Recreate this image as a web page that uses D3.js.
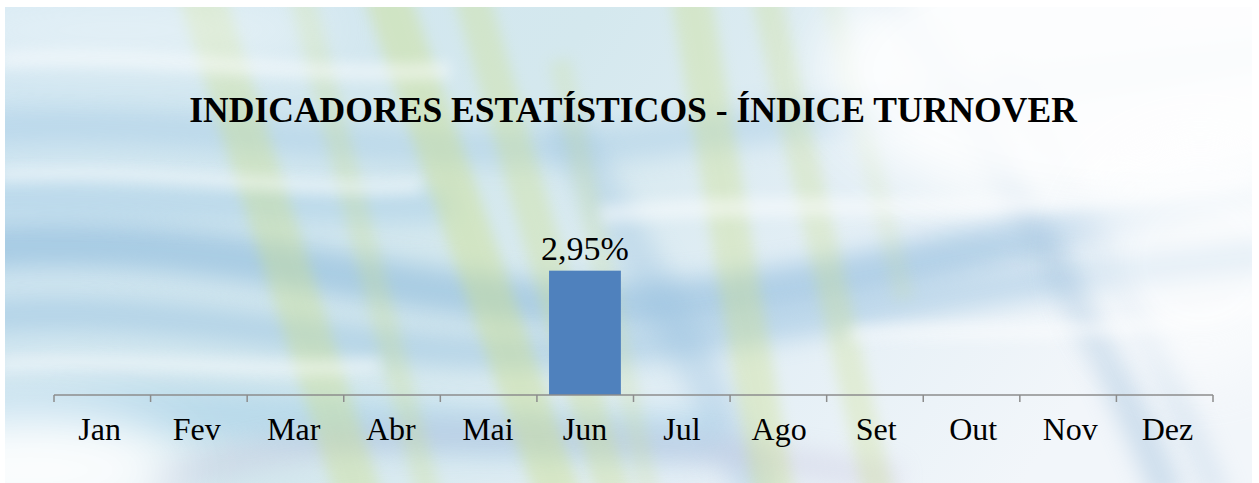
<!DOCTYPE html>
<html>
<head>
<meta charset="utf-8">
<script src="https://cdn.jsdelivr.net/npm/d3@7"></script>
<style>
  html, body { margin: 0; padding: 0; background: #ffffff; }
  svg { display: block; }
  .serif { font-family: "Liberation Serif", "Tinos", "Times New Roman", "DejaVu Serif", serif; }
</style>
</head>
<body>
<svg id="chart" width="1259" height="483"></svg>
<script>
// ---- data ----
const title = "INDICADORES ESTATÍSTICOS - ÍNDICE TURNOVER";
const months = ["Jan", "Fev", "Mar", "Abr", "Mai", "Jun", "Jul", "Ago", "Set", "Out", "Nov", "Dez"];
const turnover = [null, null, null, null, null, 2.95, null, null, null, null, null, null];
const valueLabels = ["", "", "", "", "", "2,95%", "", "", "", "", "", ""];

const W = 1259, H = 483;
const svg = d3.select("#chart");
const defs = svg.append("defs");

// ---- decorative background ----
defs.append("clipPath").attr("id", "bgclip")
  .append("rect").attr("x", 5).attr("y", 7).attr("width", 1247).attr("height", 476);

function blur(id, sd) {
  const f = defs.append("filter").attr("id", id)
    .attr("filterUnits", "userSpaceOnUse")
    .attr("x", -200).attr("y", -200).attr("width", W + 400).attr("height", H + 400);
  f.append("feGaussianBlur").attr("stdDeviation", sd);
}
blur("blurS", 7);
blur("blurM", 12);
blur("blurL", 28);

const baseGrad = defs.append("linearGradient").attr("id", "baseGrad")
  .attr("x1", "0").attr("y1", "0").attr("x2", "1").attr("y2", "0.25");
baseGrad.append("stop").attr("offset", "0").attr("stop-color", "#cfe5f1");
baseGrad.append("stop").attr("offset", "0.45").attr("stop-color", "#d4e8ee");
baseGrad.append("stop").attr("offset", "0.72").attr("stop-color", "#e2eef5");
baseGrad.append("stop").attr("offset", "1").attr("stop-color", "#f2f6fa");

const bg = svg.append("g").attr("clip-path", "url(#bgclip)");
bg.append("rect").attr("x", 0).attr("y", 0).attr("width", W).attr("height", H).attr("fill", "url(#baseGrad)");

// blue curved bands
const blueBands = [
  {d: "M-50,250 C250,220 450,330 700,300 S1100,210 1300,170", w: 45, c: "#7fb1d8", o: 0.5},
  {d: "M-50,320 C200,290 400,380 650,345 S1000,280 1300,250", w: 32, c: "#88b8dc", o: 0.42},
  {d: "M-50,130 C200,110 400,170 650,140 S1000,90 1300,50", w: 35, c: "#9cc5e3", o: 0.4},
  {d: "M-50,200 C150,195 300,215 450,205", w: 30, c: "#a3cbe6", o: 0.5},
  {d: "M-50,420 C200,390 400,445 720,435", w: 50, c: "#9ccbe6", o: 0.45},
  {d: "M880,-20 C990,140 1090,300 1170,500", w: 30, c: "#90b6d6", o: 0.4},
  {d: "M1000,60 C1080,200 1150,330 1220,500", w: 18, c: "#a0c0dc", o: 0.35},
  {d: "M560,120 C640,260 700,360 760,500", w: 40, c: "#96bfdf", o: 0.35},
  {d: "M150,483 C380,410 600,430 900,480", w: 30, c: "#b4a8cf", o: 0.22}
];
blueBands.forEach(b => {
  bg.append("path").attr("d", b.d).attr("fill", "none")
    .attr("stroke", b.c).attr("stroke-width", b.w).attr("opacity", b.o).attr("filter", "url(#blurM)");
});

// yellow-green diagonal streaks
const greenStreaks = [
  {d: "M200,-10 L360,500", w: 45, o: 0.38},
  {d: "M300,-10 L430,500", w: 25, o: 0.28},
  {d: "M385,-10 L560,500", w: 45, o: 0.42},
  {d: "M470,-10 L615,500", w: 35, o: 0.35},
  {d: "M560,60 L650,500", w: 22, o: 0.22},
  {d: "M690,-10 L775,500", w: 40, o: 0.36},
  {d: "M765,-10 L880,500", w: 30, o: 0.3},
  {d: "M830,-10 L905,300", w: 20, o: 0.16}
];
greenStreaks.forEach(s => {
  bg.append("path").attr("d", s.d).attr("fill", "none")
    .attr("stroke", "#cde08a").attr("stroke-width", s.w).attr("opacity", s.o).attr("filter", "url(#blurS)");
});

// light wisps
const wisps = [
  {d: "M0,60 C150,50 300,80 450,70", w: 16},
  {d: "M0,175 C150,165 300,195 420,185", w: 12},
  {d: "M0,365 C120,355 250,375 380,365", w: 12},
  {d: "M600,215 C800,195 1000,225 1259,175", w: 18},
  {d: "M850,335 C950,325 1100,345 1259,305", w: 14}
];
wisps.forEach(s => {
  bg.append("path").attr("d", s.d).attr("fill", "none")
    .attr("stroke", "#ffffff").attr("stroke-width", s.w).attr("opacity", 0.5).attr("filter", "url(#blurS)");
});

// whitish areas
bg.append("ellipse").attr("cx", 1160).attr("cy", 70).attr("rx", 340).attr("ry", 150)
  .attr("fill", "#ffffff").attr("opacity", 0.9).attr("filter", "url(#blurL)");
bg.append("ellipse").attr("cx", 1200).attr("cy", 260).attr("rx", 120).attr("ry", 120)
  .attr("fill", "#ffffff").attr("opacity", 0.55).attr("filter", "url(#blurL)");
bg.append("ellipse").attr("cx", 30).attr("cy", 470).attr("rx", 150).attr("ry", 60)
  .attr("fill", "#ffffff").attr("opacity", 0.9).attr("filter", "url(#blurL)");
bg.append("ellipse").attr("cx", 120).attr("cy", 30).attr("rx", 220).attr("ry", 35)
  .attr("fill", "#ffffff").attr("opacity", 0.45).attr("filter", "url(#blurL)");

// ---- scales ----
const x = d3.scaleBand().domain(months).range([54, 1213]).paddingInner(0.26).paddingOuter(0.1);
const y = d3.scaleLinear().domain([0, 3.5]).range([395, 395 - 147.5]);

const data = months.map((m, i) => ({month: m, value: turnover[i], label: valueLabels[i]}));

// ---- title ----
svg.append("text").attr("class", "serif")
  .attr("x", 633).attr("y", 122)
  .attr("text-anchor", "middle")
  .style("font-weight", "bold")
  .style("font-size", "35.6px")
  .attr("fill", "#000")
  .text(title);

// ---- bars ----
const bars = data.filter(d => d.value != null);
svg.append("g").selectAll("rect").data(bars).join("rect")
  .attr("x", d => x(d.month))
  .attr("y", d => y(d.value))
  .attr("width", x.bandwidth())
  .attr("height", d => y(0) - y(d.value))
  .attr("fill", "#4f81bd");

svg.append("g").selectAll("text").data(bars).join("text").attr("class", "serif")
  .attr("x", d => x(d.month) + x.bandwidth() / 2)
  .attr("y", d => y(d.value) - 11)
  .attr("text-anchor", "middle")
  .style("font-size", "34px")
  .attr("fill", "#000")
  .text(d => d.label);

// ---- axis ----
const axisG = svg.append("g").attr("transform", `translate(0,${y(0)})`);
axisG.call(d3.axisBottom(x).tickSize(0).tickPadding(0));
axisG.attr("font-family", null).attr("font-size", null);
axisG.select(".domain").remove();
axisG.selectAll(".tick text").attr("class", "serif")
  .attr("dy", 0).attr("y", 45)
  .style("font-size", "32px")
  .attr("fill", "#000");

const step = x.step();
const [r0, r1] = x.range();
const boundaries = d3.range(months.length + 1).map(i => r0 + (r1 - r0) * i / months.length);
axisG.append("line").attr("x1", r0).attr("x2", r1).attr("y1", 0).attr("y2", 0)
  .attr("stroke", "#8c8c8c").attr("stroke-width", 1.5);
axisG.selectAll(".btick").data(boundaries).join("line").attr("class", "btick")
  .attr("x1", d => d).attr("x2", d => d).attr("y1", 0).attr("y2", 7)
  .attr("stroke", "#8c8c8c").attr("stroke-width", 1.5);
</script>
</body>
</html>
